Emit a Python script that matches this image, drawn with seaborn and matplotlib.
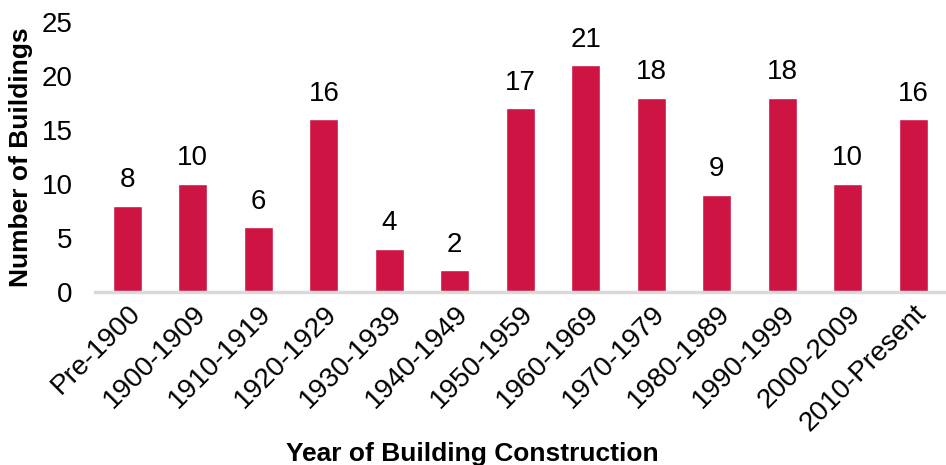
import seaborn as sns
import matplotlib.pyplot as plt

# values
periods = ['Pre-1900', '1900-1909', '1910-1919', '1920-1929', '1930-1939',
           '1940-1949', '1950-1959', '1960-1969', '1970-1979', '1980-1989',
           '1990-1999', '2000-2009', '2010-Present']
buildings = [8, 10, 6, 16, 4, 2, 17, 21, 18, 9, 18, 10, 16]

sns.set_style('white')
plt.rcParams['font.family'] = ['Liberation Sans', 'DejaVu Sans']
for key in ['text.color', 'axes.labelcolor', 'xtick.color', 'ytick.color']:
    plt.rcParams[key] = 'black'

fig = plt.figure(figsize=(9.46, 4.65), dpi=100)
ax = fig.add_axes([0.1, 0.372, 0.9, 0.581])

sns.barplot(x=periods, y=buildings, color='#CE1443', width=0.44,
            saturation=1, ax=ax)

for container in ax.containers:
    ax.bar_label(container, padding=9, fontsize=20)

ax.set_ylim(0, 25)
ax.set_yticks(range(0, 26, 5))
ax.set_xlim(-0.5, len(periods) - 0.5)
ax.tick_params(axis='y', labelsize=20, length=0, pad=16)
ax.tick_params(axis='x', labelsize=20, length=0, pad=6)
plt.setp(ax.get_xticklabels(), rotation=45, ha='right', rotation_mode='anchor')

for side in ['top', 'right', 'left']:
    ax.spines[side].set_visible(False)
ax.spines['bottom'].set_color('#D9D9D9')
ax.spines['bottom'].set_linewidth(2.5)

ax.set_ylabel('Number of Buildings', fontsize=19, fontweight='bold', va='center')
ax.yaxis.set_label_coords(-0.086, 0.5)
ax.set_xlabel('Year of Building Construction', fontsize=19, fontweight='bold')
ax.xaxis.set_label_coords(0.444, -0.6)
ax.xaxis.label.set_va('center')

fig.savefig('out.png', dpi=100)
